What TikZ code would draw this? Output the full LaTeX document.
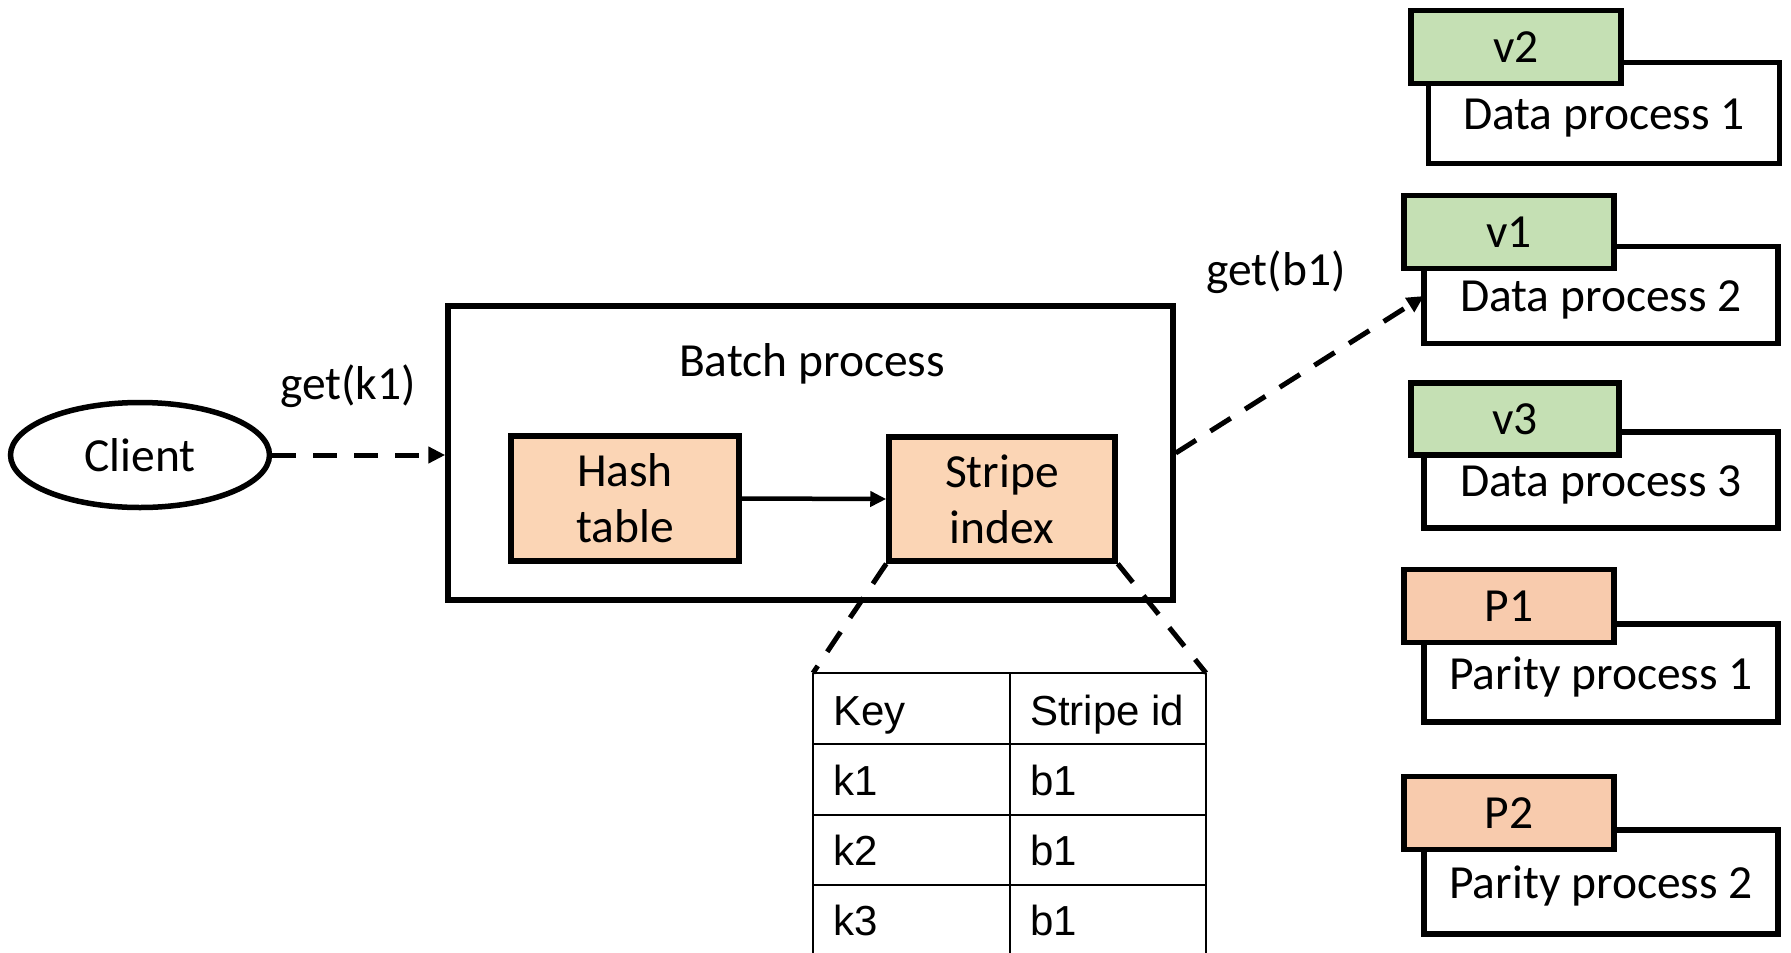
\documentclass[tikz,border=0pt]{standalone}
\usepackage{fontspec}
\setmainfont{Carlito}
\newfontfamily\arialfont{Liberation Sans}
\usetikzlibrary{shapes.geometric,arrows.meta}
\definecolor{tagGreen}{HTML}{C5E0B4}
\definecolor{tagOrange}{HTML}{F8CBAD}
\definecolor{boxOrange}{HTML}{FBD5B5}
\begin{document}
\begin{tikzpicture}[x=1pt,y=-1pt,
  bigfont/.style={font=\fontsize{47.5}{56}\selectfont, inner sep=0pt},
  txt/.style={bigfont, align=center},
  boxstyle/.style={txt, draw, line width=5.5pt, rectangle},
  procbox/.style={bigfont, draw, line width=5.5pt, rectangle, fill=white, minimum width=354pt, minimum height=98pt, text height=42pt, text depth=10pt},
  greentag/.style={boxstyle, fill=tagGreen, minimum width=210pt, minimum height=73pt},
  orangetag/.style={boxstyle, fill=tagOrange, minimum width=210pt, minimum height=73pt},
  inner/.style={boxstyle, fill=boxOrange},
  dasharrow/.style={line width=5pt, dash pattern=on 24pt off 17pt, -{Triangle[length=17pt,width=16pt]}},
  zoomline/.style={line width=5pt, dash pattern=on 24pt off 17pt},
  tableline/.style={line width=2.5pt},
  cell/.style={font=\arialfont\fontsize{42}{50}\selectfont, inner sep=0pt, anchor=base west}
]
\useasboundingbox (0,0) rectangle (1791,953);

% client
\node[txt, draw, ellipse, line width=5.5pt, minimum width=259pt, minimum height=105pt] (client) at (140,455) {Client};
\node[txt] (getk) at (348,386) {get(k1)};

% batch process
\node[boxstyle, minimum width=725pt, minimum height=294pt] (batch) at (810.5,453) {};
\node[txt] (batchlbl) at (812,364) {Batch process};
\node[inner, minimum width=228pt, minimum height=125pt] (hash) at (625,498.5) {Hash\\table};
\node[inner, minimum width=226pt, minimum height=124pt] (stripe) at (1002,499) {Stripe\\index};
\draw[line width=4.5pt, -{Triangle[length=16pt,width=15pt]}] (hash.east) -- (stripe.west);

\draw[dasharrow] (client.east) -- (client.east -| batch.west);

% processes
\node[procbox, minimum width=351pt, minimum height=101pt] (dp1) at (1604,113) {Data process 1};
\node[greentag] (v2) at (1516,47) {v2};
\node[procbox, minimum height=97pt] (dp2) at (1601,295) {Data process 2};
\node[greentag] (v1) at (1509,232) {v1};
\node[procbox, minimum height=96pt] (dp3) at (1601,480) {Data process 3};
\node[greentag, minimum width=208pt, minimum height=72pt] (v3) at (1515,419) {v3};
\node[procbox] (pp1) at (1601,673) {Parity process 1};
\node[orangetag] (p1) at (1509,606) {P1};
\node[procbox, minimum height=104pt] (pp2) at (1601,882) {Parity process 2};
\node[orangetag] (p2) at (1509,813) {P2};

\coordinate (dp2in) at (1424,296);
\draw[dasharrow] (batch.east) -- (dp2in);
\node[txt] (getb) at (1276,272) {get(b1)};

% table
\coordinate (tl) at (813,673);
\coordinate (tr) at (1206,673);
\foreach \yy in {673,744,815,885} \draw[tableline] (813,\yy) -- (1206,\yy);
\foreach \xx in {813,1010,1206} \draw[tableline] (\xx,673) -- (\xx,960);
\node[cell] (key) at (833,725) {Key};
\node[cell] (sid) at (1030,725) {Stripe id};
\node[cell] (k1) at (833,795) {k1};
\node[cell] (b1a) at (1030,795) {b1};
\node[cell] (k2) at (833,865) {k2};
\node[cell] (b1b) at (1030,865) {b1};
\node[cell] (k3) at (833,935) {k3};
\node[cell] (b1c) at (1030,935) {b1};

\draw[zoomline] (stripe.south west) -- (tl);
\draw[zoomline] (stripe.south east) -- (tr);
\end{tikzpicture}
\end{document}
